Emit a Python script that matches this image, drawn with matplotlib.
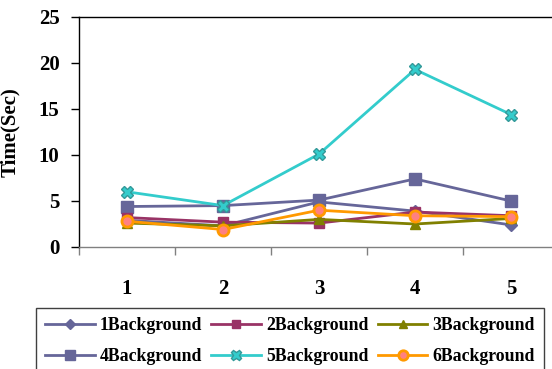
import numpy as np
import matplotlib.pyplot as plt

# categories and series values (seconds)
CATEGORIES = ['1', '2', '3', '4', '5']
BG1 = [2.9, 2.3, 4.9, 3.9, 2.4]
BG2 = [3.2, 2.7, 2.6, 3.8, 3.4]
BG3 = [2.6, 2.3, 3.0, 2.5, 3.1]
BG4 = [4.4, 4.5, 5.1, 7.4, 5.0]
BG5 = [6.0, 4.5, 10.1, 19.3, 14.4]
BG6 = [2.8, 1.9, 4.0, 3.4, 3.3]
LABELS = ['1Background', '2Background', '3Background',
          '4Background', '5Background', '6Background']
Y_TICKS = [0, 5, 10, 15, 20, 25]

plt.rcParams['font.family'] = ['Liberation Serif', 'DejaVu Serif']
plt.rcParams['font.weight'] = 'bold'

fig = plt.figure(figsize=(5.52, 3.69), dpi=100)
ax = fig.add_axes([79 / 552, 1 - 247 / 369, 480 / 552, 230 / 369])

x = np.arange(1, len(CATEGORIES) + 1)
LW = 2.0
styles = [
    dict(color='#666699', marker='D', ms=6, mfc='#666699', mec='#666699'),
    dict(color='#993366', marker='s', ms=7, mfc='#993366', mec='#993366'),
    dict(color='#808000', marker='^', ms=7, mfc='#808000', mec='#808000'),
    dict(color='#666699', marker='s', ms=8, mfc='#666699', mec='#666699'),
    dict(color='#33CCCC', marker='X', ms=9, mfc='#33CCCC', mec='#339999', mew=1.0),
    dict(color='#FF9900', marker='o', ms=8, mfc='#FF8080', mec='#FF9900', mew=2.0),
]
series = [BG1, BG2, BG3, BG4, BG5, BG6]
# draw back to front so the later series sit on top
lines = [None] * len(series)
for i in [3, 4, 0, 1, 2, 5]:
    lines[i], = ax.plot(x, series[i], lw=LW, label=LABELS[i],
                        clip_on=False, **styles[i])

ax.set_xlim(0.5, 5.5)
ax.set_ylim(0, 25)
ax.set_yticks(Y_TICKS)
ax.set_xticks(x)
ax.set_xticklabels(CATEGORIES)
ax.set_xticks(np.arange(0.5, 6.0, 1.0), minor=True)
ax.tick_params(axis='x', which='major', length=0, pad=23, labelsize=15)
ax.tick_params(axis='x', which='minor', length=6, width=1, color='#808080')
ax.tick_params(axis='y', length=6, width=1, pad=8, labelsize=15)
for lab in ax.get_xticklabels() + ax.get_yticklabels():
    lab.set_fontweight('bold')

ax.spines['right'].set_visible(False)
for s in ['left', 'top', 'bottom']:
    ax.spines[s].set_linewidth(1.0)
ax.spines['bottom'].set_color('#808080')

ax.set_ylabel('Time(Sec)', fontsize=15, fontweight='bold')
ax.yaxis.set_label_coords(-0.123, 0.5)

# legend fills row by row: 1 2 3 / 4 5 6
order = [0, 3, 1, 4, 2, 5]
leg = fig.legend(handles=[lines[i] for i in order],
                 labels=[LABELS[i] for i in order], ncol=3,
                 loc='upper left', bbox_to_anchor=(36 / 552, 1 - 308 / 369),
                 borderaxespad=0, handlelength=2.8,
                 handletextpad=0.3, columnspacing=0.5, labelspacing=0.8,
                 borderpad=0.5, fancybox=False, framealpha=1,
                 edgecolor='#404040', prop={'weight': 'bold', 'size': 12.8})
leg.get_frame().set_linewidth(1.0)
for h in leg.legend_handles:
    h.set_markersize(h.get_markersize() * 0.85)

fig.savefig('out.png', dpi=100)
